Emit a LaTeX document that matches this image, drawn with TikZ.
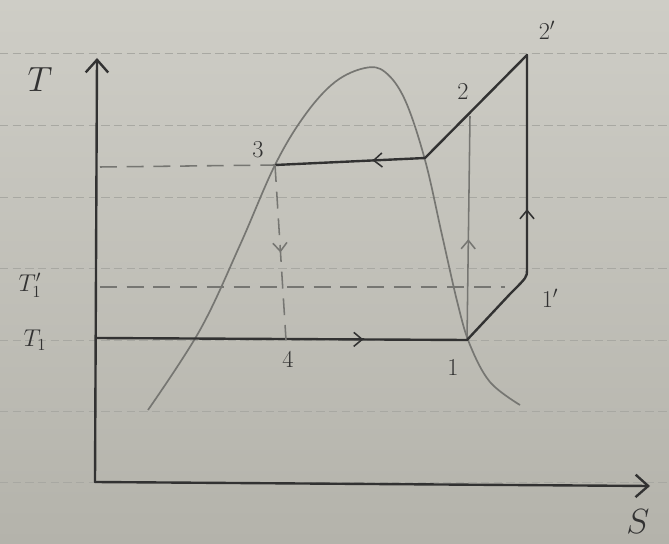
\documentclass[tikz,border=0pt]{standalone}
\usepackage{amsmath}
\usepackage{tikz}
\usetikzlibrary{arrows.meta,decorations.markings,positioning}
\definecolor{paperlight}{RGB}{206,205,198}
\definecolor{paperdark}{RGB}{180,179,171}
\definecolor{pencil}{RGB}{50,50,50}
\definecolor{softpencil}{RGB}{118,118,114}
\definecolor{ruled}{RGB}{168,168,162}
\tikzset{
  cycleline/.style={pencil,line width=1.7pt,line cap=round,line join=round},
  thinline/.style={softpencil,line width=1.1pt},
  dashline/.style={softpencil,line width=1.1pt,dash pattern=on 12pt off 7pt},
  midarrow/.style={postaction={decorate},decoration={markings,
      mark=at position #1 with {\arrow[line width=1.1pt]{Straight Barb[length=6pt,width=10pt]}}}},
  midarrow/.default=0.5,
  lbl/.style={text=pencil,font=\LARGE},
}

\begin{document}
\begin{tikzpicture}[x=0.025cm,y=-0.025cm,>={Straight Barb[length=9pt,width=16pt]}]
  \useasboundingbox (0,0) rectangle (669,544);
  % paper
  \shade[top color=paperlight,bottom color=paperdark] (0,0) rectangle (669,544);
  \foreach \yy in {53,125,197,268,340,411,482}
    \draw[ruled,line width=0.6pt,dash pattern=on 6pt off 3pt] (0,\yy) -- (669,\yy);

  % axes
  \coordinate (o) at (95,482);
  \coordinate (ytip) at (97,58);
  \coordinate (xtip) at (650,486);
  \draw[cycleline,->] (o) -- (ytip);
  \draw[cycleline,->] (o) -- (xtip);
  \node[text=pencil,font=\fontsize{28}{30}\selectfont] (tlab) at (40,80) {$T$};
  \node[text=pencil,font=\fontsize{30}{32}\selectfont] (slab) at (638,522) {$S$};

  % saturation dome
  \draw[softpencil,line width=1.2pt] plot[smooth,tension=0.6] coordinates {
    (148,410) (200,330) (240,245) (275,165) (305,115) (335,82) (365,68)
    (385,72) (405,100) (425,160) (442,235) (458,305) (470,345) (490,382) (520,405)};

  % state points
  \coordinate (p1) at (467,340);
  \coordinate (p2) at (470,116);
  \coordinate (p2d) at (527,55);
  \coordinate (p3) at (275,165);
  \coordinate (p4) at (286,340);
  \coordinate (pg) at (425,158);
  \coordinate (p1d) at (527,270);
  \coordinate (t1) at (97,338);
  \coordinate (t1d) at (100,287);
  \coordinate (t3) at (100,167);

  % cycle
  \draw[cycleline,midarrow=0.72] (t1) -- (p1);
  \draw[thinline,midarrow=0.45] (p1) -- (p2);
  \draw[cycleline] (pg) -- (p2d);
  \draw[cycleline,midarrow=0.35] (pg) -- (p3);
  \draw[dashline,midarrow=0.5] (p3) -- (p4);
  \draw[cycleline,midarrow=0.5] (p1) -- (510,294) .. controls (527,277) .. (p1d) -- (p2d);

  % temperature levels
  \draw[dashline] (t3) -- (p3);
  \draw[dashline] (t1d) -- (505,287);

  % labels
  \node[lbl] (l1) at (453,368) {$1$};
  \node[lbl] (l1d) at (550,298) {$1'$};
  \node[lbl] (l2) at (463,92) {$2$};
  \node[lbl] (l2d) at (547,30) {$2'$};
  \node[lbl] (l3) at (258,150) {$3$};
  \node[lbl] (l4) at (288,360) {$4$};
  \node[lbl] (lt1) at (35,340) {$T_1$};
  \node[lbl] (lt1d) at (30,285) {$T_1'$};
\end{tikzpicture}
\end{document}
